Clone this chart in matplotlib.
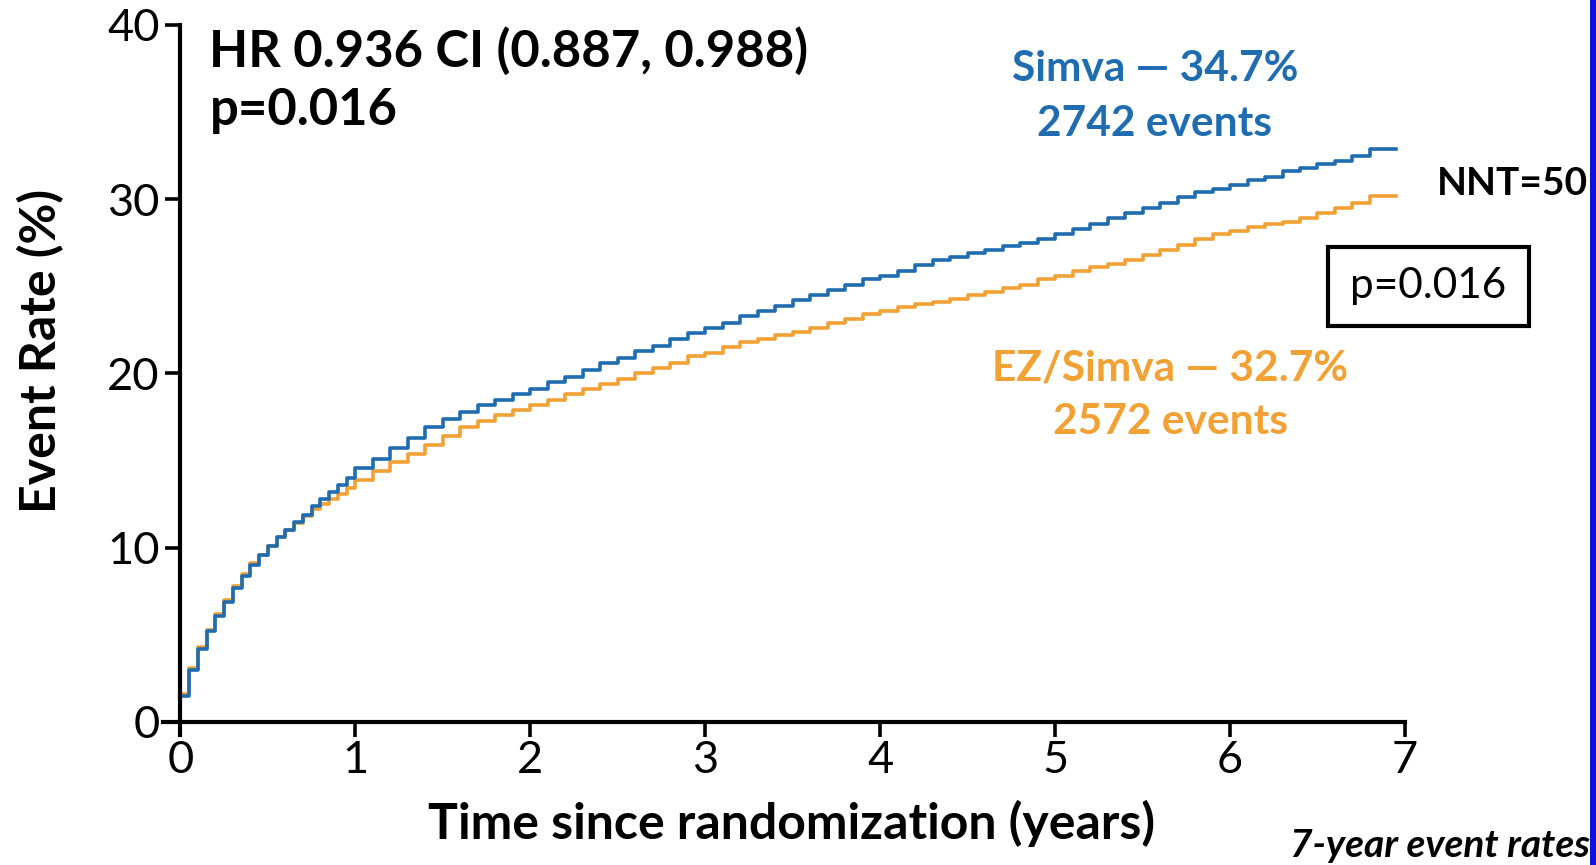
import numpy as np
import matplotlib
matplotlib.use("Agg")
import matplotlib.pyplot as plt
from matplotlib.patches import Rectangle

plt.rcParams['font.family'] = ['Lato', 'DejaVu Sans']

# event curves (% with event) read at fixed follow-up times, years
t_early = [0.00, 0.05, 0.10, 0.15, 0.20, 0.25, 0.30, 0.35, 0.40, 0.45,
           0.50, 0.55, 0.60, 0.65, 0.70, 0.75, 0.80, 0.85, 0.90, 0.95]
t_late = [1.0, 1.1, 1.2, 1.3, 1.4, 1.5, 1.6, 1.7, 1.8, 1.9,
          2.0, 2.1, 2.2, 2.3, 2.4, 2.5, 2.6, 2.7, 2.8, 2.9,
          3.0, 3.1, 3.2, 3.3, 3.4, 3.5, 3.6, 3.7, 3.8, 3.9,
          4.0, 4.1, 4.2, 4.3, 4.4, 4.5, 4.6, 4.7, 4.8, 4.9,
          5.0, 5.1, 5.2, 5.3, 5.4, 5.5, 5.6, 5.7, 5.8, 5.9,
          6.0, 6.1, 6.2, 6.3, 6.4, 6.5, 6.6, 6.7, 6.8, 6.95]
time_yr = t_early + t_late

simva = [0.0, 1.5, 3.0, 4.2, 5.2, 6.1, 6.9, 7.7, 8.4, 9.0,
         9.6, 10.1, 10.6, 11.0, 11.5, 11.9, 12.4, 12.8, 13.2, 13.6,
         14.0, 14.6, 15.1, 15.7, 16.3, 16.9, 17.4, 17.8, 18.2, 18.5,
         18.8, 19.1, 19.5, 19.8, 20.2, 20.6, 20.9, 21.3, 21.6, 22.0,
         22.3, 22.6, 22.9, 23.3, 23.6, 23.9, 24.2, 24.5, 24.8, 25.1,
         25.4, 25.6, 25.9, 26.2, 26.5, 26.7, 26.9, 27.1, 27.3, 27.5,
         27.7, 28.0, 28.3, 28.6, 28.9, 29.2, 29.5, 29.8, 30.1, 30.4,
         30.6, 30.8, 31.1, 31.3, 31.6, 31.8, 32.0, 32.2, 32.5, 32.9]

ez_simva = [0.0, 1.6, 3.1, 4.3, 5.3, 6.2, 7.0, 7.8, 8.5, 9.1,
            9.6, 10.1, 10.6, 11.0, 11.4, 11.8, 12.2, 12.5, 12.8, 13.1,
            13.4, 13.9, 14.4, 14.9, 15.4, 15.9, 16.4, 16.9, 17.3, 17.6,
            17.9, 18.2, 18.5, 18.8, 19.1, 19.4, 19.7, 20.0, 20.3, 20.6,
            21.0, 21.2, 21.5, 21.8, 22.0, 22.2, 22.4, 22.6, 22.9, 23.1,
            23.4, 23.6, 23.8, 24.0, 24.1, 24.3, 24.5, 24.7, 24.9, 25.1,
            25.4, 25.6, 25.9, 26.1, 26.3, 26.5, 26.8, 27.1, 27.4, 27.7,
            28.0, 28.2, 28.4, 28.6, 28.7, 28.9, 29.2, 29.5, 29.8, 30.2]

xticks = [0, 1, 2, 3, 4, 5, 6, 7]
yticks = [0, 10, 20, 30, 40]

blue = '#1f6db0'
orange = '#f2a134'

fig = plt.figure(figsize=(15.96, 8.65), dpi=100)
ax = fig.add_axes([0.1021, 0.1503, 0.7782, 0.8208])

ax.step(time_yr, ez_simva, where='pre', color=orange, lw=2.6)
ax.step(time_yr, simva, where='pre', color=blue, lw=2.6)

ax.set_xlim(-0.1, 7)
ax.set_ylim(-0.75, 40)
ax.spines['top'].set_visible(False)
ax.spines['right'].set_visible(False)
ax.spines['bottom'].set_position(('data', 0))
ax.spines['left'].set_position(('data', 0))
for s in ['bottom', 'left']:
    ax.spines[s].set_linewidth(3)
ax.set_xticks(xticks)
ax.set_yticks(yticks)
ax.tick_params(axis='both', direction='out', length=11, width=2.6,
               labelsize=32.5, color='black')
ax.tick_params(axis='x', pad=2)
ax.tick_params(axis='y', pad=4)

ax.set_xlabel("Time since randomization (years)", fontsize=36, fontweight='bold', va='center')
ax.xaxis.set_label_coords(0.5064, -0.124)
ax.set_ylabel("Event Rate (%)", fontsize=36, fontweight='bold', va='center')
ax.yaxis.set_label_coords(-0.0982, 0.541)

ax.text(0.166, 38.5, "HR 0.936 CI (0.887, 0.988)", fontsize=36.5, fontweight='bold', va='center')
ax.text(0.166, 35.1, "p=0.016", fontsize=36.5, fontweight='bold', va='center')

ax.text(5.57, 37.5, "Simva \u2014 34.7%", fontsize=30.5, fontweight='bold', color=blue,
        ha='center', va='center')
ax.text(5.57, 34.3, "2742 events", fontsize=30.5, fontweight='bold', color=blue,
        ha='center', va='center')
ax.text(5.66, 20.3, "EZ/Simva \u2014 32.7%", fontsize=30.5, fontweight='bold', color=orange,
        ha='center', va='center')
ax.text(5.66, 17.2, "2572 events", fontsize=30.5, fontweight='bold', color=orange,
        ha='center', va='center')

fig.text(0.9004, 0.7884, "NNT=50", fontsize=28, fontweight='bold', va='center')

# boxed p-value on the right
fig.patches.append(Rectangle((1328 / 1596, 1 - 326 / 865), 201 / 1596, 79 / 865,
                             transform=fig.transFigure, fill=False, lw=3, ec='black'))
fig.text(1428 / 1596, 1 - 286 / 865, "p=0.016", fontsize=30.5, ha='center', va='center')

fig.text(0.9962, 0.022, "7-year event rates", fontsize=28, fontweight='bold',
         fontstyle='italic', ha='right', va='center')

# slide border on the right edge
fig.patches.append(Rectangle((1590 / 1596, 0), 6 / 1596, 1,
                             transform=fig.transFigure, color='#1010d8', lw=0))

fig.savefig('out.png', dpi=100)
